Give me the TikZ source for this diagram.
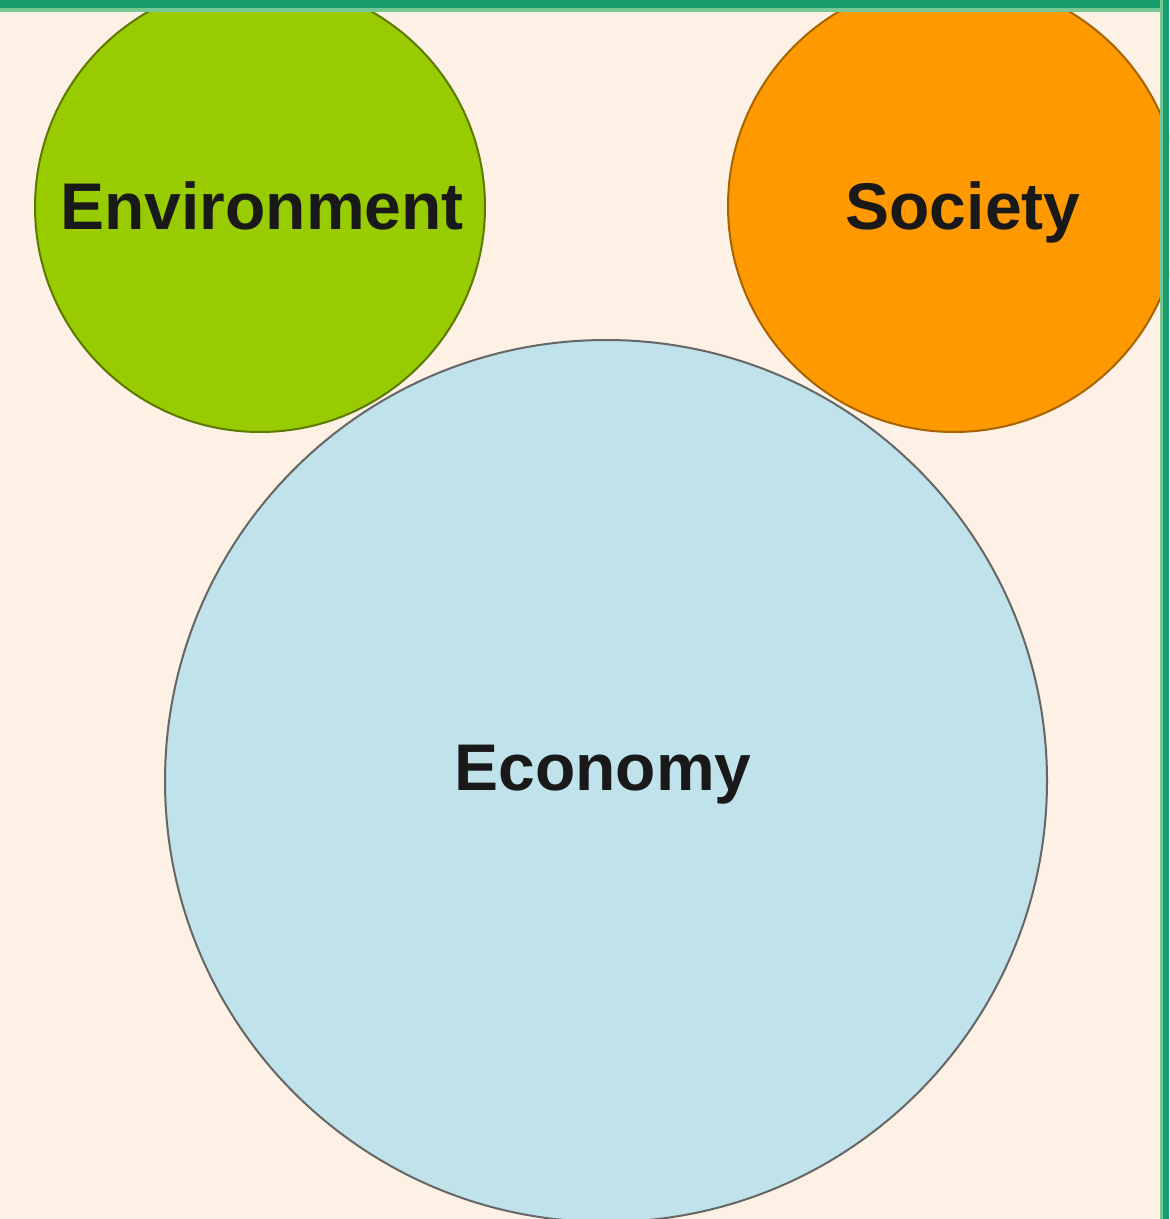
\documentclass[tikz,border=0pt]{standalone}
\usepackage{fontspec}
\setmainfont{Liberation Sans}
\definecolor{paper}{RGB}{253,240,228}
\definecolor{framegreen}{RGB}{24,158,108}
\definecolor{framelight}{RGB}{120,200,150}
\definecolor{envgreen}{RGB}{153,204,0}
\definecolor{socorange}{RGB}{255,153,0}
\definecolor{ecoblue}{RGB}{192,226,234}
\tikzset{
  sphere/.style={circle, inner sep=0pt, line width=1pt},
  sphtext/.style={anchor=base, inner sep=0pt, text=black!90,
    font=\bfseries\fontsize{33}{40}\selectfont}
}
\begin{document}
\begin{tikzpicture}[x=0.5pt,y=-0.5pt]
            \useasboundingbox (0,0) rectangle (1169,1219);
            \clip (0,0) rectangle (1169,1219);
            \fill[paper] (0,0) rectangle (1169,1219);

            % Circles
            \node[sphere, draw=envgreen!60!black, fill=envgreen, minimum size=225pt] (env) at (260,207) {};
            \node[sphere, draw=socorange!65!black, fill=socorange, minimum size=226pt] (soc) at (954,206) {};
            \node[sphere, draw=black!60, fill=ecoblue, minimum size=441pt] (eco) at (606,781) {};

            % Labels
            \node[sphtext] (envlabel) at (262,230) {Environment};
            \node[sphtext] (soclabel) at (963,230) {Society};
            \node[sphtext] (ecolabel) at (603,790) {Economy};

            % Frame
            \fill[framelight] (0,0) rectangle (1169,12);
            \fill[framegreen] (0,0) rectangle (1169,8);
            \fill[framelight] (1160,0) rectangle (1163,1219);
            \fill[framegreen] (1163,0) rectangle (1169,1219);
        \end{tikzpicture}
\end{document}
